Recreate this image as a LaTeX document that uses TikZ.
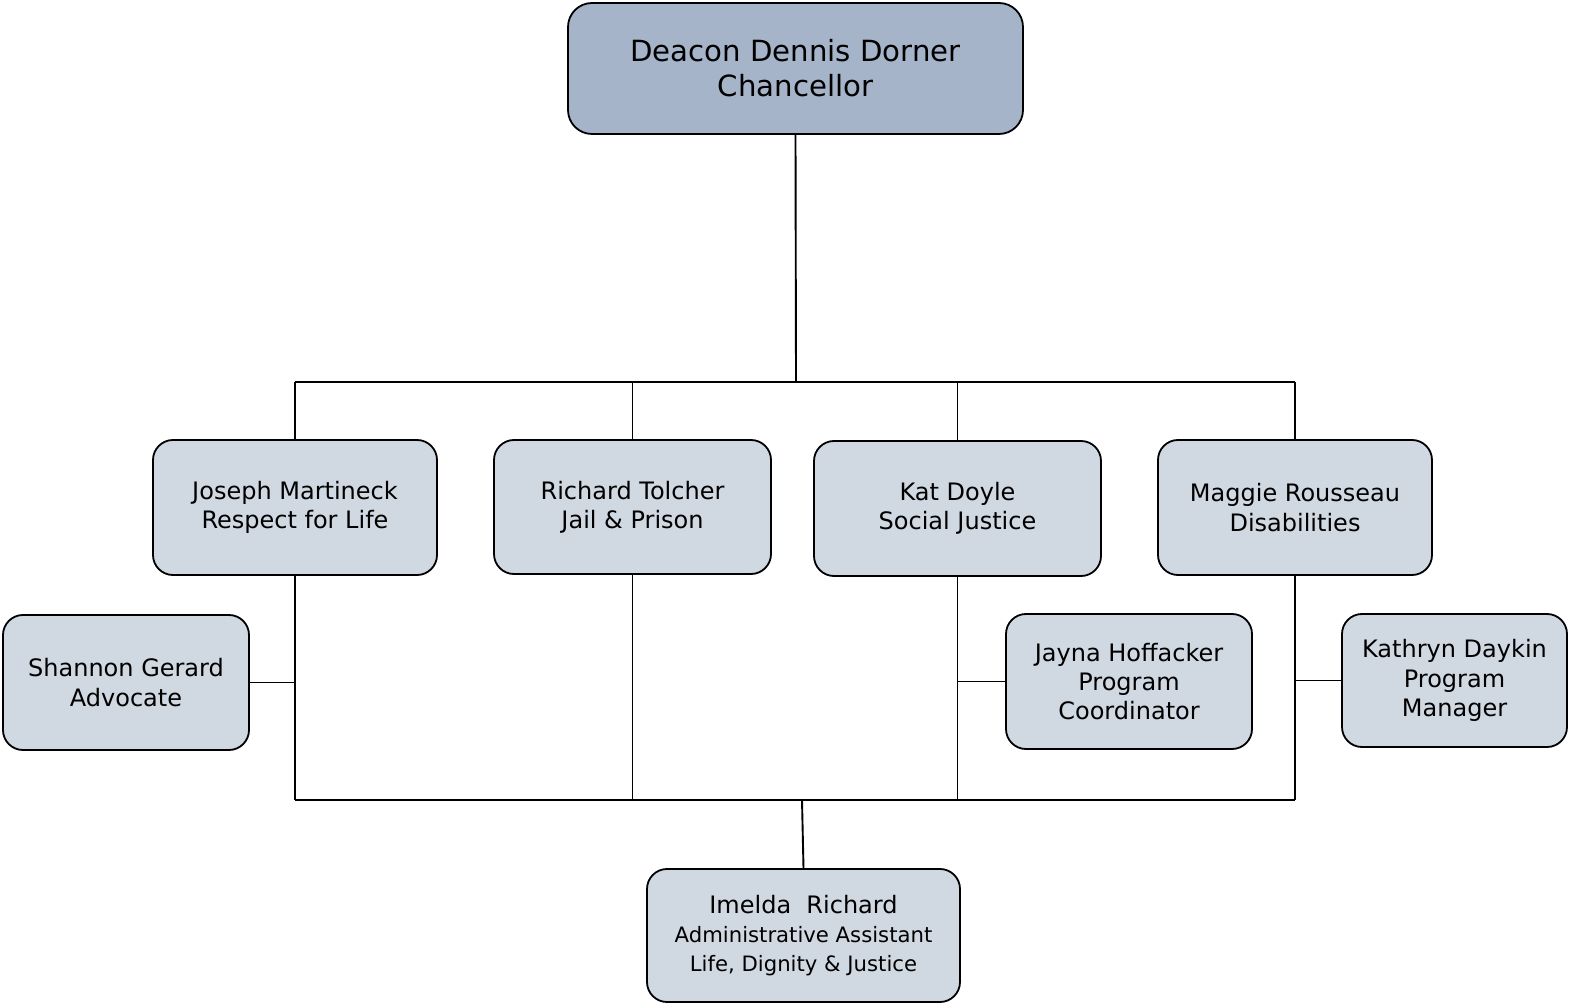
\documentclass[tikz,border=0pt]{standalone}
\usepackage{fontspec}
\setmainfont{DejaVu Sans}
\definecolor{topfill}{HTML}{A5B4C8}
\definecolor{boxfill}{HTML}{D0D8E2}
\newcommand{\smallline}{\fontsize{10.6}{13.4}\selectfont}
\begin{document}
\begin{tikzpicture}[x=0.5pt,y=-0.5pt,line width=0.9pt,
  box/.style={draw=black,fill=boxfill,rounded corners=10pt,align=center,inner sep=0pt,
    line width=0.9pt,font=\fontsize{12}{14.6}\selectfont},
  topbox/.style={box,fill=topfill,rounded corners=12pt,font=\fontsize{14.6}{17.6}\selectfont},
  conn/.style={draw=black,line width=0.95pt}]
\useasboundingbox (0,0) rectangle (1570,1005);
\node[topbox,minimum width=227.5pt,minimum height=65.5pt] (top) at (795.5,68.5) {Deacon Dennis Dorner\\Chancellor};
\node[box,minimum width=142pt,minimum height=67.5pt] (jm) at (295,507.5) {Joseph Martineck\\Respect for Life};
\node[box,minimum width=138.5pt,minimum height=67pt] (rt) at (632.5,507) {Richard Tolcher\\Jail \& Prison};
\node[box,minimum width=143.5pt,minimum height=67.5pt] (kd) at (957.5,508.5) {Kat Doyle\\Social Justice};
\node[box,minimum width=137pt,minimum height=67.5pt] (mr) at (1295,507.5) {Maggie Rousseau\\Disabilities};
\node[box,minimum width=123pt,minimum height=67.5pt] (sg) at (126,682.5) {Shannon Gerard\\Advocate};
\node[box,minimum width=123pt,minimum height=67.5pt] (jh) at (1129,681.5) {Jayna Hoffacker\\Program\\Coordinator};
\node[box,minimum width=112.5pt,minimum height=66.5pt] (kdy) at (1454.5,680.5) {Kathryn Daykin\\Program\\Manager};
\node[box,minimum width=156.5pt,minimum height=66.5pt] (ir) at (803.5,935.5) {Imelda\ \ Richard\\\smallline Administrative Assistant\\\smallline Life, Dignity \& Justice};
\coordinate (busT) at (796,382);
\coordinate (busB) at (802,800);
\draw[conn] (top.south) -- (busT);
\draw[conn] (jm.north |- busT) -- (mr.north |- busT);
\draw[conn] (jm.north) -- (jm.north |- busT);
\draw[conn] (rt.north) -- (rt.north |- busT);
\draw[conn] (kd.north) -- (kd.north |- busT);
\draw[conn] (mr.north) -- (mr.north |- busT);
\draw[conn] (jm.south) -- (jm.south |- busB);
\draw[conn] (rt.south) -- (rt.south |- busB);
\draw[conn] (kd.south) -- (kd.south |- busB);
\draw[conn] (mr.south) -- (mr.south |- busB);
\draw[conn] (jm.south |- busB) -- (mr.south |- busB);
\draw[conn] (busB) -- (ir.north);
\draw[conn] (sg.east) -- (sg.east -| jm.south);
\draw[conn] (jh.west) -- (jh.west -| kd.south);
\draw[conn] (kdy.west) -- (kdy.west -| mr.south);
\end{tikzpicture}
\end{document}
